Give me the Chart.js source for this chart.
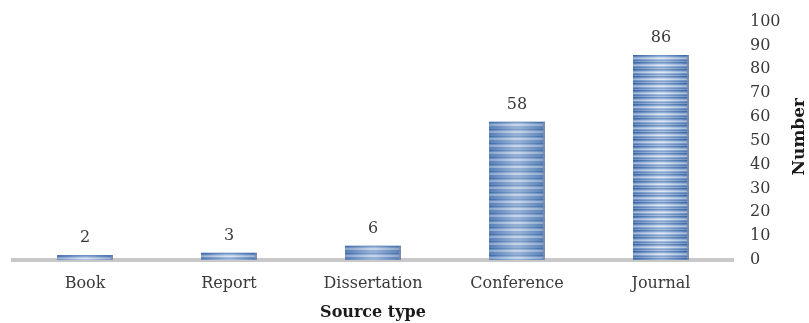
<!DOCTYPE html>
<html>
<head>
<meta charset="utf-8">
<script src="https://cdn.jsdelivr.net/npm/chart.js@4"></script>
<style>
  html, body { margin: 0; padding: 0; background: #ffffff; }
  #wrap { width: 809px; height: 323px; position: relative; }
</style>
</head>
<body>
<div id="wrap"><canvas id="c"></canvas></div>
<script>
// Source types and the number of studies in each
const categories = ['Book', 'Report', 'Dissertation', 'Conference', 'Journal'];
const counts = [2, 3, 6, 58, 86];
const yTicks = [0, 10, 20, 30, 40, 50, 60, 70, 80, 90, 100];

const FONT = '"DejaVu Serif", serif';
const TEXT = '#3a3a3a';

// Horizontal-stripe texture painted over each bar, lighter toward the middle
const stripeRows = ['#3564a5', '#5f8ac3', '#aac1e3', '#eef3fa', '#8aa9d6', '#4b78b6', '#9bb6de'];
const stripePlugin = {
  id: 'stripes',
  afterDatasetsDraw(chart) {
    const ctx = chart.ctx;
    chart.getDatasetMeta(0).data.forEach(bar => {
      const { x, y, base, width } = bar.getProps(['x', 'y', 'base', 'width'], true);
      const left = x - width / 2, top = Math.min(y, base), h = Math.abs(base - y);
      ctx.save();
      ctx.beginPath();
      ctx.rect(left, top, width, h);
      ctx.clip();
      for (let r = 0; r < h; r++) {
        ctx.fillStyle = stripeRows[r % stripeRows.length];
        ctx.fillRect(left, top + r, width, 1);
      }
      const g = ctx.createLinearGradient(left, 0, left + width, 0);
      g.addColorStop(0, 'rgba(50,90,150,0.3)');
      g.addColorStop(0.45, 'rgba(255,255,255,0.3)');
      g.addColorStop(0.55, 'rgba(255,255,255,0.3)');
      g.addColorStop(1, 'rgba(50,90,150,0.3)');
      ctx.fillStyle = g;
      ctx.fillRect(left, top, width, h);
      ctx.fillStyle = 'rgba(125,140,170,0.85)';
      ctx.fillRect(left + width - 2, top, 2, h);
      ctx.restore();
    });
  }
};

// Value labels above the bars
const valueLabelPlugin = {
  id: 'valueLabels',
  afterDatasetsDraw(chart) {
    const ctx = chart.ctx;
    ctx.save();
    ctx.font = '16px ' + FONT;
    ctx.fillStyle = TEXT;
    ctx.textAlign = 'center';
    ctx.textBaseline = 'alphabetic';
    chart.getDatasetMeta(0).data.forEach((bar, i) => {
      ctx.fillText(String(counts[i]), bar.x, bar.y - 13);
    });
    ctx.restore();
  }
};

// Vertical axis title reading bottom to top, to the right of the tick labels
const yTitlePlugin = {
  id: 'yTitle',
  afterDraw(chart) {
    const ctx = chart.ctx;
    const area = chart.chartArea;
    ctx.save();
    ctx.translate(800, (area.top + area.bottom) / 2 - 4);
    ctx.rotate(-Math.PI / 2);
    ctx.font = 'bold 17px ' + FONT;
    ctx.fillStyle = '#1a1a1a';
    ctx.textAlign = 'center';
    ctx.textBaseline = 'middle';
    ctx.fillText('Number', 0, 0);
    ctx.restore();
  }
};

new Chart(document.getElementById('c'), {
  type: 'bar',
  data: {
    labels: categories,
    datasets: [{
      data: counts,
      backgroundColor: '#4f7ab5',
      borderWidth: 0,
      categoryPercentage: 1,
      barPercentage: 0.388
    }]
  },
  options: {
    responsive: true,
    maintainAspectRatio: false,
    animation: false,
    events: [],
    layout: { padding: { left: 13, top: 21.5, right: 0, bottom: 0 } },
    plugins: { legend: { display: false }, tooltip: { enabled: false } },
    scales: {
      x: {
        grid: { display: false, drawTicks: false },
        border: { display: true, color: '#c8c8c8', width: 4 },
        ticks: { color: TEXT, font: { family: FONT, size: 16 }, padding: 14, maxRotation: 0 },
        title: { display: true, text: 'Source type', color: '#1a1a1a', font: { family: FONT, size: 16, weight: 'bold' }, padding: { top: 0, bottom: 1 } },
        afterFit(scale) { scale.height = 63; }
      },
      y: {
        position: 'right',
        min: 0,
        max: 100,
        grid: { display: false, drawTicks: false },
        border: { display: false },
        afterBuildTicks(scale) { scale.ticks = yTicks.map(v => ({ value: v })); },
        ticks: { color: TEXT, font: { family: FONT, size: 16 }, padding: 17, crossAlign: 'near' },
        afterFit(scale) {
          scale.width = 76;
          scale.paddingTop = 10;
          scale.paddingBottom = 10;
        }
      }
    }
  },
  plugins: [stripePlugin, valueLabelPlugin, yTitlePlugin]
});
</script>
</body>
</html>
